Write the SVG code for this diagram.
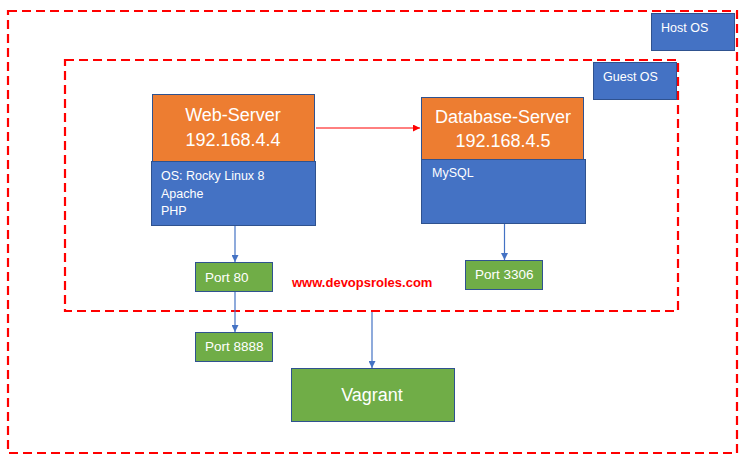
<svg xmlns="http://www.w3.org/2000/svg" width="745" height="464" viewBox="0 0 745 464">
<defs>
<style>
.frame{fill:none;stroke:#FF0000;stroke-width:2.2;stroke-dasharray:9 5}
.orange{fill:#ED7D31;stroke:#2F528F;stroke-width:1}
.blue{fill:#4472C4;stroke:#2F528F;stroke-width:1}
.green{fill:#70AD47;stroke:#2F528F;stroke-width:1}
text{font-family:"Liberation Sans",Arial,sans-serif;fill:#FFFFFF}
.title{font-size:18px;text-anchor:middle}
.small{font-size:12.5px}
.port{font-size:13.5px}
.wire{stroke:#4472C4;stroke-width:1.2;fill:none}
.redwire{stroke:#FF0000;stroke-width:1;fill:none}
.url{font-size:13px;font-weight:bold;fill:#FF0000}
</style>
<marker id="ab" viewBox="0 0 10 10" refX="10" refY="5" markerWidth="7" markerHeight="7" markerUnits="userSpaceOnUse" orient="auto"><path d="M0,0 L10,5 L0,10 Z" fill="#4472C4"/></marker>
<marker id="ar" viewBox="0 0 10 10" refX="10" refY="5" markerWidth="7" markerHeight="7" markerUnits="userSpaceOnUse" orient="auto"><path d="M0,0 L10,5 L0,10 Z" fill="#FF0000"/></marker>
</defs>
<g id="host-frame"><rect class="frame" x="8" y="11" width="729" height="442"/></g>
<g id="guest-frame"><rect class="frame" x="65" y="60" width="613" height="251"/></g>
<g id="host-os"><rect class="blue" x="651.5" y="13.5" width="83" height="37"/><text class="small" x="661" y="32">Host OS</text></g>
<g id="guest-os"><rect class="blue" x="593.5" y="62.5" width="83" height="37"/><text class="small" x="603" y="81">Guest OS</text></g>
<g id="web-server">
<rect class="orange" x="152.5" y="94.5" width="162" height="67"/>
<text class="title" x="233" y="121">Web-Server</text>
<text class="title" x="233" y="146">192.168.4.4</text>
<rect class="blue" x="151.5" y="161.5" width="164" height="64"/>
<text class="small" x="161" y="180">OS: Rocky Linux 8</text>
<text class="small" x="161" y="197.5">Apache</text>
<text class="small" x="161" y="215">PHP</text>
</g>
<g id="database-server">
<rect class="orange" x="421.5" y="97.5" width="162" height="62"/>
<text class="title" x="503" y="123">Database-Server</text>
<text class="title" x="503" y="147">192.168.4.5</text>
<rect class="blue" x="421.5" y="159.5" width="164" height="64"/>
<text class="small" x="432" y="177">MySQL</text>
</g>
<g id="port-80"><rect class="green" x="195.5" y="262.5" width="77" height="29"/><text class="port" x="205" y="281.5">Port 80</text></g>
<g id="port-8888"><rect class="green" x="195.5" y="332.5" width="77" height="29"/><text class="port" x="205" y="351">Port 8888</text></g>
<g id="port-3306"><rect class="green" x="465.5" y="260.5" width="77" height="29"/><text class="port" x="475" y="279">Port 3306</text></g>
<g id="vagrant"><rect class="green" x="291.5" y="368.5" width="163" height="53"/><text class="title" x="372" y="401">Vagrant</text></g>
<g id="url"><text class="url" x="292" y="287">www.devopsroles.com</text></g>
<g id="connectors">
<line class="redwire" x1="316" y1="128" x2="420" y2="128" marker-end="url(#ar)"/>
<line class="wire" x1="235" y1="226" x2="235" y2="262" marker-end="url(#ab)"/>
<line class="wire" x1="235" y1="292" x2="235" y2="332" marker-end="url(#ab)"/>
<line class="wire" x1="504.5" y1="224" x2="504.5" y2="260" marker-end="url(#ab)"/>
<line class="wire" x1="372" y1="312" x2="372" y2="368" marker-end="url(#ab)"/>
</g>
</svg>
